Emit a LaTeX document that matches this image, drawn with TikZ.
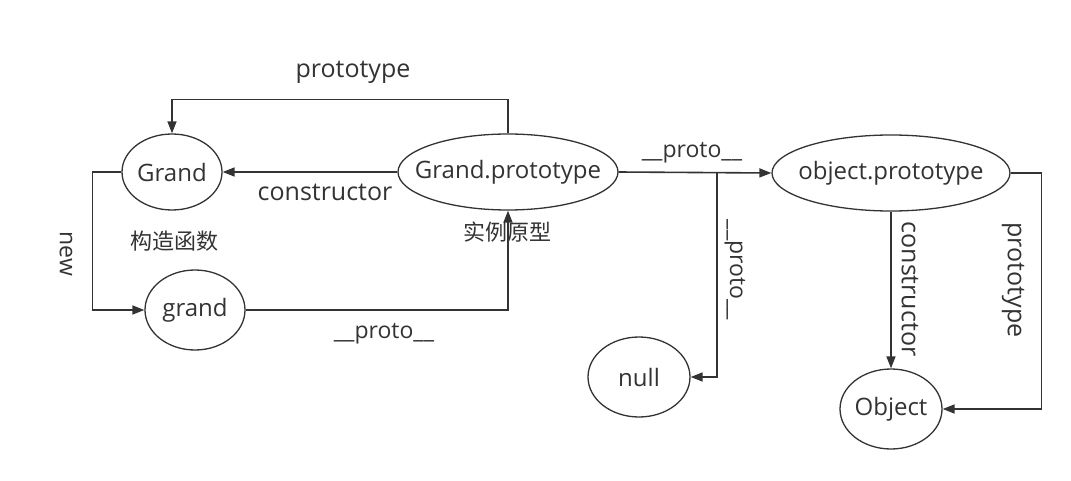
\documentclass[tikz,border=0pt]{standalone}
\usepackage{fontspec}
\setmainfont{Open Sans}
\newfontfamily\cjk{Noto Sans CJK SC}
\usetikzlibrary{shapes.geometric,arrows.meta}
\definecolor{lc}{HTML}{333333}
\definecolor{tc}{HTML}{333333}
\newcommand{\zw}[1]{\makebox[0pt]{\raisebox{-2pt}{#1}}}
\begin{document}
\begin{tikzpicture}[x=1pt,y=-1pt,
  ell/.style={draw=lc, line width=1.3pt, ellipse, inner sep=0pt, text=tc,
    font=\fontsize{24}{28}\selectfont},
  arr/.style={draw=lc, line width=1.6pt, -{Triangle[length=12pt,width=9pt]}},
  lbl/.style={text=tc, inner sep=0pt, font=\fontsize{25}{30}\selectfont},
  slbl/.style={text=tc, inner sep=0pt, font=\fontsize{23}{28}\selectfont},
  zh/.style={text=tc, inner sep=0pt, font=\cjk\fontsize{22}{26}\selectfont}
]
\useasboundingbox[fill=white] (0,0) rectangle (1071,481);

% nodes
\node[ell, minimum width=100pt, minimum height=76pt] (G) at (172,172) {\zw{Grand}};
\node[ell, minimum width=220pt, minimum height=76pt] (GP) at (508,172) {\zw{Grand.prototype}};
\node[ell, minimum width=100pt, minimum height=80pt] (g) at (195,310) {\zw{grand}};
\node[ell, minimum width=238pt, minimum height=76pt] (OP) at (891,173) {\zw{object.prototype}};
\node[ell, minimum width=102pt, minimum height=80pt] (N) at (639,377) {\zw{null}};
\node[ell, minimum width=102pt, minimum height=80pt] (O) at (891,409) {\zw{Object}};

% labels
\node[lbl] (lproto) at (353,72) {prototype};
\node[lbl] (lcons) at (325,192) {constructor};
\node[zh] (lgz) at (174,241) {构造函数};
\node[zh] (lsl) at (507,232) {实例原型};
\node[slbl, rotate=-90] (lnew) at (66,254) {new};
\node[slbl] (lp1) at (384,334) {\_\_proto\_\_};
\node[slbl] (lp2) at (692,153) {\_\_proto\_\_};
\node[slbl, rotate=-90] (lp3) at (735,270) {\_\_proto\_\_};
\node[lbl, rotate=-90] (lcons2) at (910,289) {constructor};
\node[lbl, rotate=-90] (lproto2) at (1013,280) {prototype};

% connectors
\draw[arr] (GP.north) -- ++(0,-34) -| (G.north);
\draw[arr] (GP.west) -- (G.east);
\draw[arr] (G.west) -- ++(-29,0) |- (g.west);
\draw[arr] (g.east) -| (GP.south);
\draw[arr] (GP.east) -- (OP.west);
\coordinate (br) at (717,172);
\draw[arr] (br) |- (N.east);
\draw[arr] (OP.south) -- (O.north);
\draw[arr] (OP.east) -- ++(31,0) |- (O.east);
\end{tikzpicture}
\end{document}
